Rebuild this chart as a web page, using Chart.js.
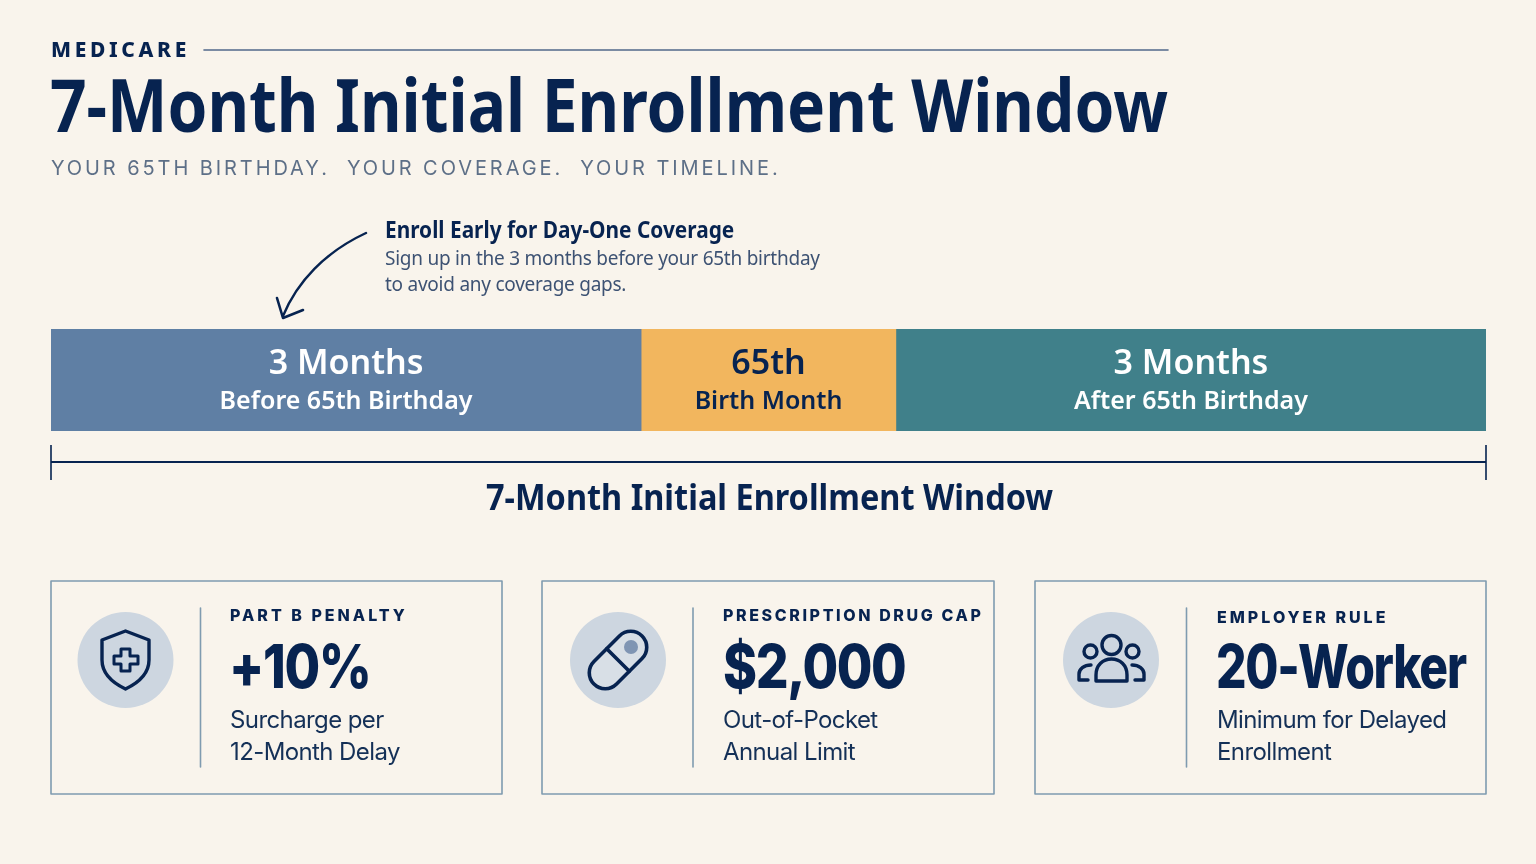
<!DOCTYPE html>
<html>
<head>
<meta charset="utf-8">
<title>7-Month Initial Enrollment Window</title>
<script src="https://cdn.jsdelivr.net/npm/chart.js@4"></script>
<style>
html, body { margin: 0; padding: 0; background: #f9f4ec; }
#page { position: relative; width: 1536px; height: 864px; overflow: hidden; color: #072350; font-family: "Noto Sans", sans-serif; }
#page canvas { position: absolute; left: 0; top: 0; }
#page svg { position: absolute; left: 0; top: 0; }
.t { position: absolute; white-space: nowrap; line-height: 1; transform-origin: left top; }
.eyebrow { left: 51px; top: 39px; font-size: 21px; font-weight: 800; letter-spacing: 3.65px; }
.title { left: 50px; top: 67px; font-size: 74px; font-weight: 700; transform: scaleX(0.865); }
.subtitle { left: 51px; top: 158px; font-size: 20px; letter-spacing: 2.92px; color: #5d6f87; font-family: "Inter", sans-serif; font-weight: 400; }
.note-h { left: 385px; top: 218px; font-size: 23px; font-weight: 700; transform: scaleX(0.906); }
.note { left: 385px; font-size: 19px; color: #3d5273; letter-spacing: -0.25px; }
.span-label { left: 486px; top: 479px; font-size: 36px; font-weight: 700; transform: scaleX(0.902); }
.kicker { font-family: "Inter", sans-serif; font-size: 16px; font-weight: 800; letter-spacing: 3px; }
.value { font-family: "Inter", sans-serif; font-size: 60px; font-weight: 800; letter-spacing: -1.6px; }
.desc { font-family: "Inter", sans-serif; font-size: 24px; font-weight: 400; color: #143057; letter-spacing: -0.6px; }
</style>
</head>
<body>
<div id="page">
  <canvas id="chart" width="1536" height="864"></canvas>
  <svg width="1536" height="864" fill="none" stroke="#072350" stroke-width="2.6" stroke-linecap="round" stroke-linejoin="round">
    <line x1="204" y1="50" x2="1168" y2="50" stroke="#51688a" stroke-width="1.6"/>
    <path d="M366 233 C 325 252 297 282 283 316" stroke-width="2.4"/>
    <path d="M277 298 L283 318 L303 310" stroke-width="2.6"/>
    <g stroke="#7f9bb0" stroke-width="1.6">
      <rect x="51" y="581" width="451" height="213"/>
      <rect x="542" y="581" width="452" height="213"/>
      <rect x="1035" y="581" width="451" height="213"/>
      <line x1="200.5" y1="608" x2="200.5" y2="767"/>
      <line x1="693" y1="608" x2="693" y2="767"/>
      <line x1="1186.5" y1="608" x2="1186.5" y2="767"/>
    </g>
    <g fill="#cdd6e0" stroke="none">
      <circle cx="125.5" cy="660" r="48"/>
      <circle cx="618" cy="660" r="48"/>
      <circle cx="1111" cy="660" r="48"/>
    </g>
    <g stroke-width="3.4">
      <path d="M125.5 631 L149 640 V 660 C149 674 138 683 125.5 689 C113 683 102 674 102 660 V 640 Z"/>
      <path d="M121 649 H130 V 656 H138 V 664 H130 V 671 H121 V 664 H114 V 656 H121 Z" stroke-width="3"/>
    </g>
    <g transform="rotate(-45 618 660)" stroke-width="3.6">
      <rect x="584" y="644" width="68" height="32" rx="16" fill="#d8dfe6"/>
      <line x1="618" y1="644" x2="618" y2="676"/>
    </g>
    <circle cx="631" cy="647" r="7" fill="#7f95b3" stroke="none"/>
    <g stroke-width="3.4">
      <circle cx="1111.5" cy="645" r="9.5"/>
      <circle cx="1090.5" cy="651.5" r="6.5"/>
      <circle cx="1132.5" cy="651.5" r="6.5"/>
      <path d="M1096 681 V 675 C1096 665 1103 659 1111.5 659 C1120 659 1127 665 1127 675 V 681 Z"/>
      <path d="M1088 680 H1079 V 674 C1079 669 1084 665 1091 665"/>
      <path d="M1135 680 H1144 V 674 C1144 669 1139 665 1132 665"/>
    </g>
  </svg>
  <div class="t eyebrow">MEDICARE</div>
  <div class="t title">7-Month Initial Enrollment Window</div>
  <div class="t subtitle">YOUR 65TH BIRTHDAY.&nbsp; YOUR COVERAGE.&nbsp; YOUR TIMELINE.</div>
  <div class="t note-h">Enroll Early for Day-One Coverage</div>
  <div class="t note" style="top:249px">Sign up in the 3 months before your 65th birthday</div>
  <div class="t note" style="top:275px">to avoid any coverage gaps.</div>
  <div class="t span-label">7-Month Initial Enrollment Window</div>

  <div class="t kicker" style="left:230px;top:607px">PART B PENALTY</div>
  <div class="t value" style="left:229px;top:636px;transform:scaleX(0.86)">+10%</div>
  <div class="t desc" style="left:230px;top:708px">Surcharge per</div>
  <div class="t desc" style="left:230px;top:740px">12-Month Delay</div>

  <div class="t kicker" style="left:723px;top:607px;letter-spacing:2.6px">PRESCRIPTION DRUG CAP</div>
  <div class="t value" style="left:723px;top:636px;transform:scaleX(0.86)">$2,000</div>
  <div class="t desc" style="left:723px;top:708px">Out-of-Pocket</div>
  <div class="t desc" style="left:723px;top:740px">Annual Limit</div>

  <div class="t kicker" style="left:1217px;top:609px">EMPLOYER RULE</div>
  <div class="t value" style="left:1216px;top:636px;transform:scaleX(0.8)">20-Worker</div>
  <div class="t desc" style="left:1217px;top:708px">Minimum for Delayed</div>
  <div class="t desc" style="left:1217px;top:740px">Enrollment</div>
</div>
<script>
'use strict';
// segment lengths as drawn: the birth month is wider than one month in the picture
const rowLabels = ['Enrollment window'];
const segmentNames = ['Before', 'Birth month', 'After'];
const segmentValues = [[3], [1.295], [3]];
const segmentColors = ['#5f7fa4', '#f2b65e', '#40808a'];
const segmentHeads = ['3 Months', '65th', '3 Months'];
const segmentSubs = ['Before 65th Birthday', 'Birth Month', 'After 65th Birthday'];
const segmentInk = ['#ffffff', '#072350', '#ffffff'];

const ctx2d = document.getElementById('chart').getContext('2d');

const barLabels = {
    id: 'barLabels',
    afterDatasetsDraw(chart) {
        const c = chart.ctx;
        c.save();
        c.textAlign = 'center';
        c.textBaseline = 'alphabetic';
        segmentHeads.forEach((head, i) => {
            const bar = chart.getDatasetMeta(i).data[0];
            const mid = (bar.x + bar.base) / 2;
            c.fillStyle = segmentInk[i];
            c.font = '600 34px "Noto Sans"';
            c.fillText(head, mid, 374);
            c.font = '600 25px "Noto Sans"';
            c.fillText(segmentSubs[i], mid, 409);
        });
        c.restore();
    },
};

// bracket under the bar, follows the x scale
const bracket = {
    id: 'bracket',
    afterDraw(chart) {
        const c = chart.ctx;
        const x = chart.scales.x;
        const left = x.getPixelForValue(x.min);
        const right = x.getPixelForValue(x.max);
        c.save();
        c.strokeStyle = '#072350';
        c.lineWidth = 2;
        c.beginPath();
        c.moveTo(left, 462);
        c.lineTo(right, 462);
        c.stroke();
        c.lineWidth = 1.6;
        c.beginPath();
        c.moveTo(left, 445);
        c.lineTo(left, 480);
        c.moveTo(right, 445);
        c.lineTo(right, 480);
        c.stroke();
        c.restore();
    },
};

new Chart(ctx2d, {
    type: 'bar',
    data: {
        labels: rowLabels,
        datasets: segmentValues.map((v, i) => ({
            label: segmentNames[i],
            data: v,
            backgroundColor: segmentColors[i],
            borderWidth: 0,
            barPercentage: 1,
            categoryPercentage: 1,
            stack: 'window',
        })),
    },
    options: {
        indexAxis: 'y',
        responsive: false,
        animation: false,
        layout: { padding: { left: 51, right: 50, top: 329, bottom: 433 } },
        scales: {
            x: { stacked: true, display: false, min: 0, max: 7.295 },
            y: { stacked: true, display: false },
        },
        plugins: {
            legend: { display: false },
            tooltip: { enabled: false },
        },
    },
    plugins: [barLabels, bracket],
});
</script>
</body>
</html>
